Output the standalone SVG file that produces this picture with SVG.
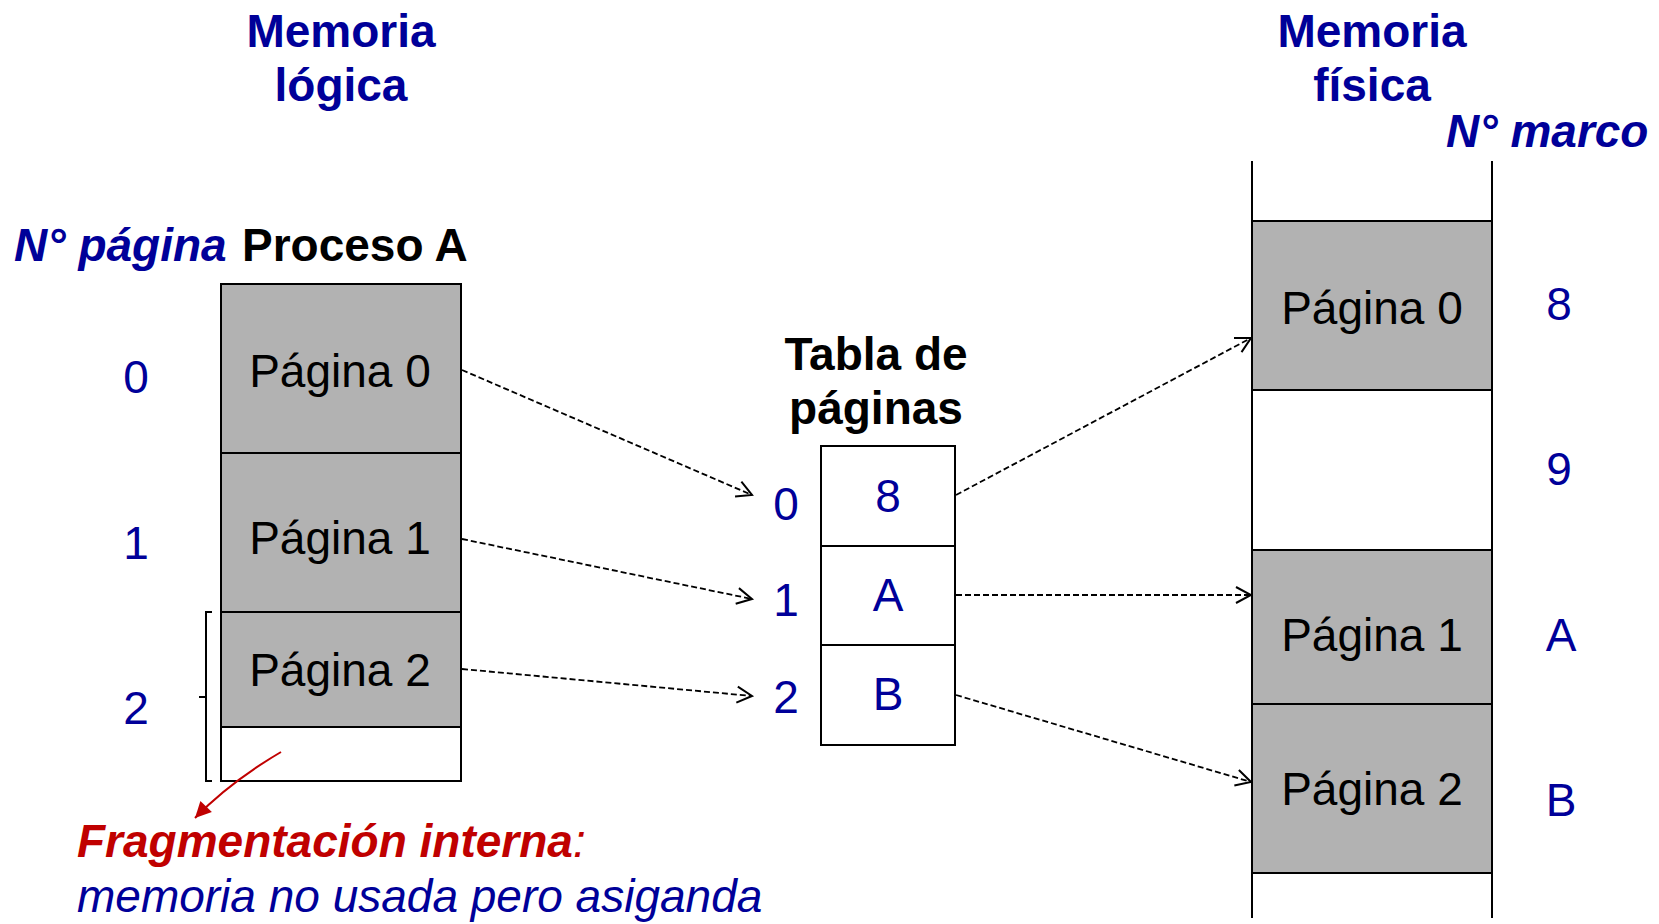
<svg xmlns="http://www.w3.org/2000/svg" width="1659" height="924" viewBox="0 0 1659 924">
<style>
text{font-family:"Liberation Sans",Arial,sans-serif;font-size:46px}
.t{font-weight:bold;fill:#000099;text-anchor:middle}
.bi{font-weight:bold;font-style:italic;fill:#000099}
.blk{font-weight:bold;fill:#000}
.pg{fill:#000;text-anchor:middle}
.num{fill:#000099;text-anchor:middle}
.g{fill:#b2b2b2;stroke:#000;stroke-width:2}
.w{fill:#fff;stroke:#000;stroke-width:2}
.ln{fill:none;stroke:#000;stroke-width:2}
.dash{fill:none;stroke:#000;stroke-width:1.8;stroke-dasharray:6 3}
</style>
<defs>
<marker id="ah" markerUnits="userSpaceOnUse" viewBox="-18 -10 20 20" refX="0" refY="0" markerWidth="20" markerHeight="20" orient="auto">
<path d="M-15,-8 L0,0 L-15,8" fill="none" stroke="#000" stroke-width="2"/>
</marker>
<marker id="rh" markerUnits="userSpaceOnUse" viewBox="-18 -10 20 20" refX="0" refY="0" markerWidth="20" markerHeight="20" orient="auto">
<path d="M-16,-8 L0,0 L-16,8 Z" fill="#c00000"/>
</marker>
</defs>

<g id="titles">
<text class="t" x="341" y="47">Memoria</text>
<text class="t" x="341" y="101">lógica</text>
<text class="t" x="1372" y="47">Memoria</text>
<text class="t" x="1372" y="101">física</text>
<text class="bi" x="1446" y="147">N° marco</text>
<text class="bi" x="14" y="261">N° página</text>
<text class="blk" x="242" y="261">Proceso A</text>
</g>

<g id="logical-memory">
<rect class="g" x="221" y="284" width="240" height="169"/>
<rect class="g" x="221" y="453" width="240" height="159"/>
<rect class="g" x="221" y="612" width="240" height="115"/>
<rect class="w" x="221" y="727" width="240" height="54"/>
<text class="pg" x="340" y="387">Página 0</text>
<text class="pg" x="340" y="554">Página 1</text>
<text class="pg" x="340" y="686">Página 2</text>
<text class="num" x="136" y="393">0</text>
<text class="num" x="136" y="559">1</text>
<text class="num" x="136" y="724">2</text>
<path class="ln" d="M212,612 H206 V781 H212 M206,697 H199"/>
</g>

<g id="page-table">
<text class="blk" x="876" y="370" text-anchor="middle">Tabla de</text>
<text class="blk" x="876" y="424" text-anchor="middle">páginas</text>
<rect class="w" x="821" y="446" width="134" height="100"/>
<rect class="w" x="821" y="546" width="134" height="99"/>
<rect class="w" x="821" y="645" width="134" height="100"/>
<text class="num" x="888" y="512">8</text>
<text class="num" x="888" y="611">A</text>
<text class="num" x="888" y="710">B</text>
<text class="num" x="786" y="520">0</text>
<text class="num" x="786" y="616">1</text>
<text class="num" x="786" y="713">2</text>
</g>

<g id="physical-memory">
<path class="ln" d="M1252,161 V918 M1492,161 V918"/>
<rect class="g" x="1252" y="221" width="240" height="169"/>
<rect class="g" x="1252" y="550" width="240" height="154"/>
<rect class="g" x="1252" y="704" width="240" height="169"/>
<text class="pg" x="1372" y="324">Página 0</text>
<text class="pg" x="1372" y="651">Página 1</text>
<text class="pg" x="1372" y="805">Página 2</text>
<text class="num" x="1559" y="320">8</text>
<text class="num" x="1559" y="485">9</text>
<text class="num" x="1561" y="651">A</text>
<text class="num" x="1561" y="816">B</text>
</g>

<g id="connectors">
<path class="dash" d="M462,370 L752,495" marker-end="url(#ah)"/>
<path class="dash" d="M462,539 L752,599" marker-end="url(#ah)"/>
<path class="dash" d="M462,669 L752,696" marker-end="url(#ah)"/>
<path class="dash" d="M956,495 L1251,338" marker-end="url(#ah)"/>
<path class="dash" d="M956,595 L1251,595" marker-end="url(#ah)"/>
<path class="dash" d="M956,695 L1251,782" marker-end="url(#ah)"/>
<path d="M281,752 Q230,782 195,818" fill="none" stroke="#c00000" stroke-width="2" marker-end="url(#rh)"/>
</g>

<g id="note">
<text x="77" y="857" font-weight="bold" font-style="italic" fill="#c00000">Fragmentación interna<tspan font-weight="normal">:</tspan></text>
<text x="77" y="912" font-style="italic" fill="#000099">memoria no usada pero asiganda</text>
</g>
</svg>
